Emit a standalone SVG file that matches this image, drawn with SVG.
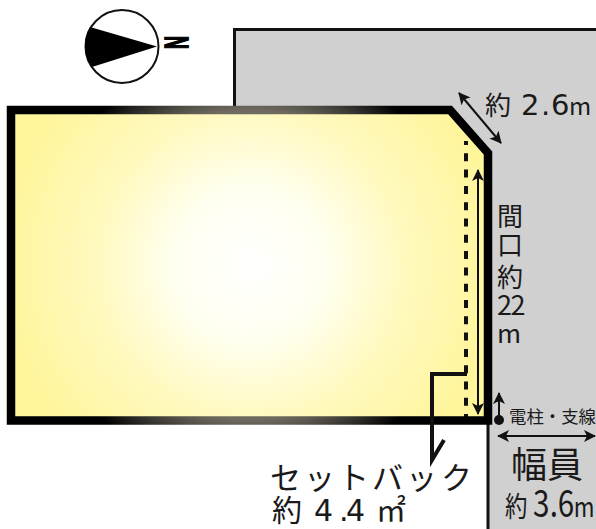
<svg xmlns="http://www.w3.org/2000/svg" width="596" height="529" viewBox="0 0 596 529">
<style>
text{font-family:"Noto Sans CJK JP","Liberation Sans",sans-serif;fill:#1a1a1a}
.digit{font-family:"DejaVu Sans","Liberation Sans",sans-serif}
.thin{fill:none;stroke:#111;stroke-width:2}
</style>
<defs>
<radialGradient id="lotFill" gradientUnits="userSpaceOnUse" cx="250" cy="265" r="250">
<stop offset="0" stop-color="#ffffff"/><stop offset="0.3" stop-color="#fffff0"/><stop offset="0.62" stop-color="#fff9be"/><stop offset="1" stop-color="#fff59b"/>
</radialGradient>
<radialGradient id="lotEdge" gradientUnits="userSpaceOnUse" cx="250" cy="265" r="230">
<stop offset="0" stop-color="#6f6b60"/><stop offset="0.67" stop-color="#6f6b60"/><stop offset="0.93" stop-color="#000"/><stop offset="1" stop-color="#000"/>
</radialGradient>
<marker id="head" viewBox="0 0 12 12" refX="11" refY="6" markerWidth="12" markerHeight="12" markerUnits="userSpaceOnUse" orient="auto-start-reverse">
<path d="M0,0 L12,6 L0,12 L3,6 Z" fill="#111"/>
</marker>
</defs>
<rect width="596" height="529" fill="#fff"/>
<g id="road">
<path d="M235,30 H596 V529 H488 V420 H235 Z" fill="#d0d0d0"/>
<path d="M234.500,106 V29.500 H596 M488,420 V529" fill="none" stroke="#111" stroke-width="3"/>
</g>
<g id="north">
<circle cx="122" cy="46.500" r="36.500" fill="#fff" stroke="#111" stroke-width="2"/>
<path d="M157,46.500 L90,27 A36.500,36.500 0 0 0 92,67 Z" fill="#000"/>
<text transform="translate(165,36) rotate(90) scale(1,1.800)" font-size="18" font-weight="700" stroke="#000" stroke-width="1" style="font-family:'Liberation Sans',sans-serif;fill:#000">N</text>
</g>
<g id="lot">
<path d="M11,110 H450 L488,153 V420.500 H11 Z" fill="url(#lotFill)"/>
<path d="M466,141 V420" fill="none" stroke="#111" stroke-width="4" stroke-dasharray="8 8.300" stroke-dashoffset="4"/>
<path d="M11,110 H450 L488,153 V420.500 H11 Z" fill="none" stroke="url(#lotEdge)" stroke-width="8.500"/>
</g>
<g id="connectors">
<path class="thin" d="M459,93 L501,143" marker-start="url(#head)" marker-end="url(#head)"/>
<path class="thin" d="M478,170 V414" marker-start="url(#head)" marker-end="url(#head)"/>
<path d="M467,374 H432 V460 L444,440" fill="none" stroke="#111" stroke-width="4"/>
<path class="thin" d="M499,420 V393" marker-end="url(#head)"/>
<circle cx="499" cy="420" r="5" fill="#111"/>
<path class="thin" d="M498,436 H595" marker-start="url(#head)" marker-end="url(#head)"/>
</g>
<g id="labels">
<text y="115" font-size="26" x="485">約<tspan class="digit" font-size="29" x="521 541 551">2.6</tspan><tspan font-size="24" x="569">m</tspan></text>
<text font-size="26"><tspan x="497" y="226">間</tspan><tspan x="497" y="255">口</tspan><tspan x="497" y="287">約</tspan><tspan font-size="27" x="497 510.500" y="315">22</tspan><tspan x="497" y="343">m</tspan></text>
<text x="509" y="423" font-size="17.400">電柱・支線</text>
<text x="511" y="478" font-size="36">幅員</text>
<text transform="translate(505,517) scale(0.8,1)" font-size="28" x="0">約<tspan font-size="37" x="35 56 66">3.6</tspan><tspan font-size="28" x="86">m</tspan></text>
<text font-size="31"><tspan y="489" x="270 304 338 372 406 441">セットバック</tspan><tspan y="520.500" font-size="30" x="272">約</tspan><tspan class="digit" font-size="30" y="520.500" x="314 339 346">4.4</tspan><tspan font-size="30" y="520.500" x="376">㎡</tspan></text>
</g>
</svg>
